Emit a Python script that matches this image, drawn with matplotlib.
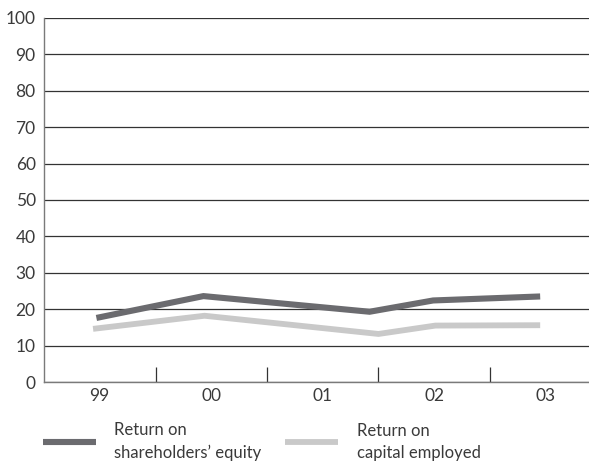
import matplotlib
matplotlib.use("Agg")
import matplotlib.pyplot as plt
import numpy as np

# category labels along the x axis
years = ["99", "00", "01", "02", "03"]

# return on shareholders' equity (%), x in category units
equity_x = [-0.03, 0.93, 2.42, 2.99, 3.95]
equity = [17.6, 23.6, 19.3, 22.4, 23.5]

# return on capital employed (%)
capital_x = [-0.06, 0.94, 2.50, 3.01, 3.95]
capital = [14.6, 18.2, 13.2, 15.5, 15.6]

yticks = list(range(0, 101, 10))

plt.rcParams["font.family"] = ["Lato", "DejaVu Sans"]
text_color = "#3a3a3a"

fig = plt.figure(figsize=(5.89, 4.65), dpi=100)
W, H = 589, 465
ax = fig.add_axes([44 / W, (H - 382) / H, (W - 44) / W, (382 - 18) / H])

ax.plot(equity_x, equity, color="#6b6b6f", lw=4.4, solid_capstyle="butt",
        solid_joinstyle="miter", label="Return on\nshareholders\u2019 equity", zorder=3)
ax.plot(capital_x, capital, color="#c9c9c9", lw=4.2, solid_capstyle="butt",
        solid_joinstyle="miter", label="Return on\ncapital employed", zorder=3)

ax.set_ylim(0, 100)
ax.set_xlim(-0.5, -0.5 + (W - 44) / 111.5)

# horizontal grid
ax.set_yticks(yticks)
ax.set_yticklabels([str(v) for v in yticks])
ax.yaxis.grid(True, color="#333333", lw=0.9)
ax.set_axisbelow(True)
ax.tick_params(axis="y", length=0, pad=6, labelsize=12.5, labelcolor=text_color)

# category labels centred, separators at the boundaries
ax.set_xticks(range(len(years)))
ax.set_xticklabels(years)
ax.set_xticks(np.arange(0.5, len(years) - 0.5, 1.0), minor=True)
ax.tick_params(axis="x", which="major", length=0, pad=4, labelsize=12.5,
               labelcolor=text_color)
ax.tick_params(axis="x", which="minor", direction="in", length=11, width=0.9,
               color="#333333")

for side in ["top", "right"]:
    ax.spines[side].set_visible(False)
ax.spines["left"].set_color("#7a7a7a")
ax.spines["bottom"].set_color("#7a7a7a")
ax.spines["left"].set_linewidth(1.0)
ax.spines["bottom"].set_linewidth(1.0)

leg = ax.legend(loc="upper left", bbox_to_anchor=(-0.03, -0.07), ncol=2,
                frameon=False, handlelength=3.2, handletextpad=1.1,
                columnspacing=1.4, fontsize=12, labelcolor=text_color)
for t in leg.get_texts():
    t.set_linespacing(1.45)

fig.savefig("out.png", dpi=100)
